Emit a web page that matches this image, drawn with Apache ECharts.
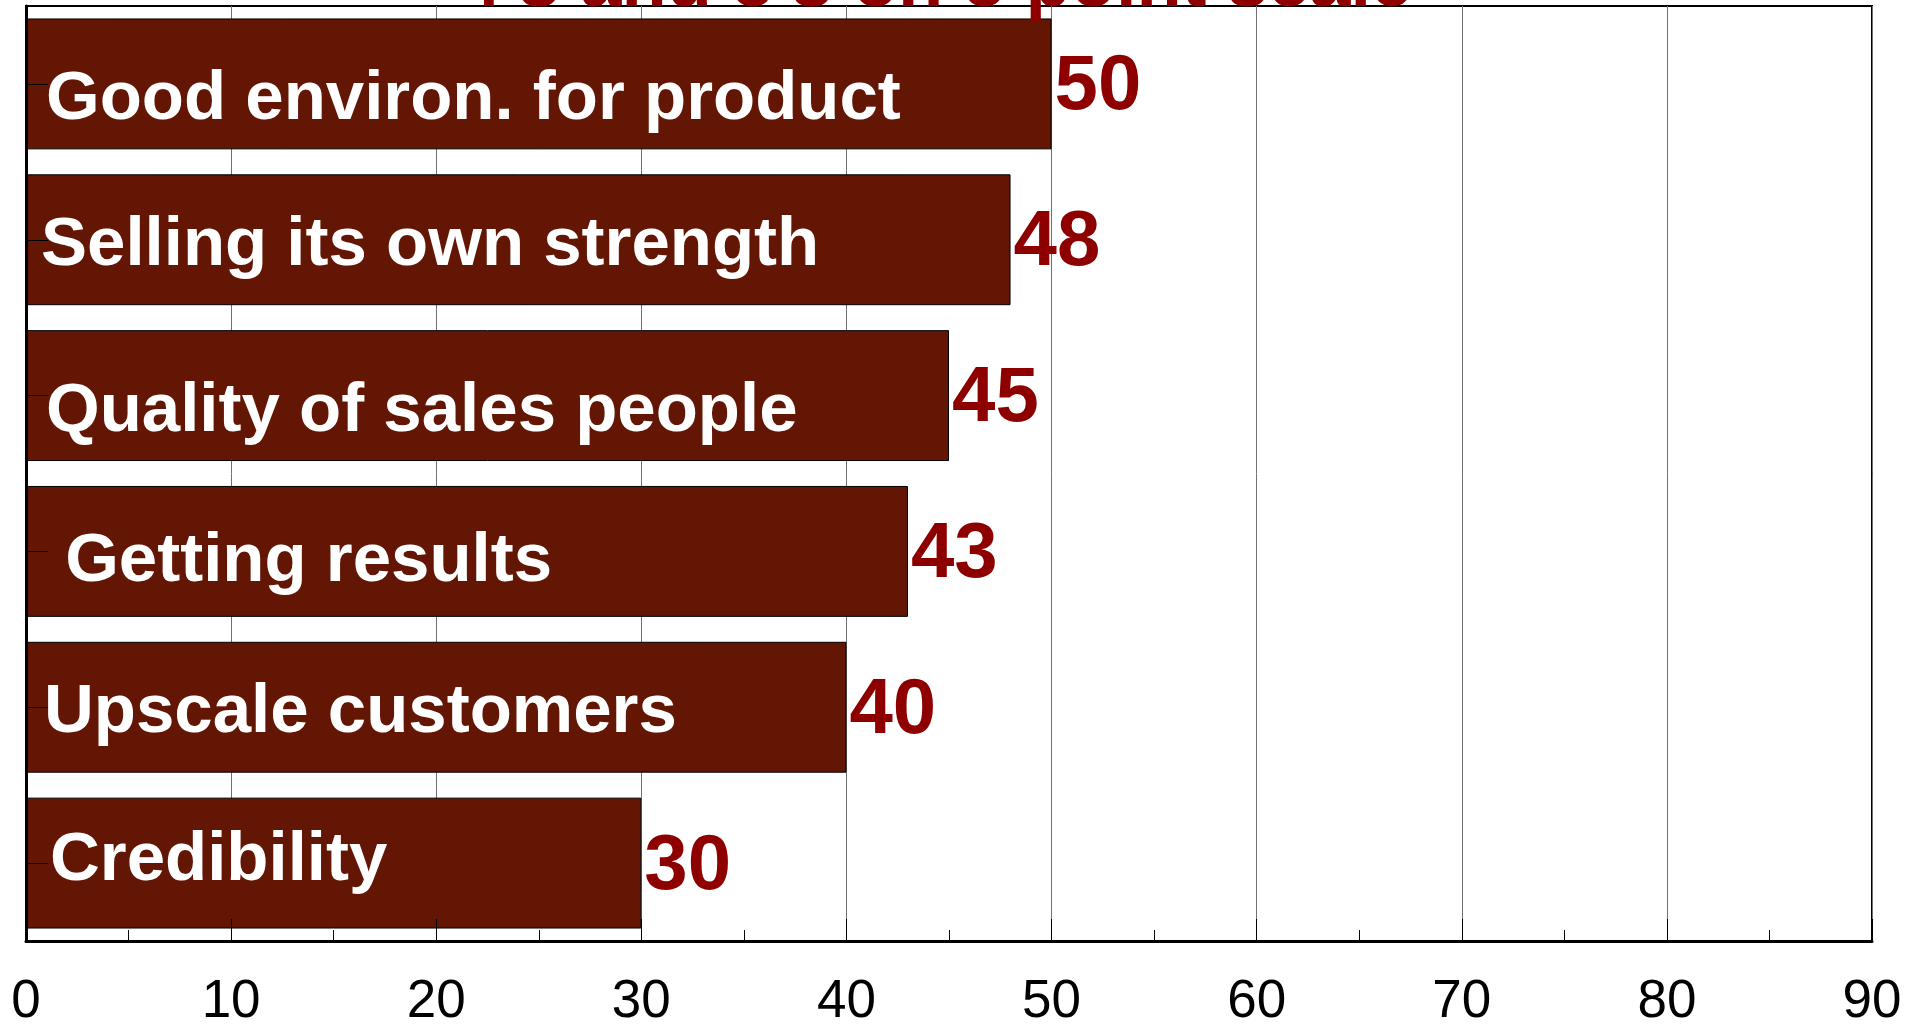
<!DOCTYPE html>
<html>
<head>
<meta charset="utf-8">
<title>Top 2 box ratings</title>
<script src="https://cdn.jsdelivr.net/npm/echarts@6/dist/echarts.min.js"></script>
<style>
  html, body { margin: 0; padding: 0; background: #ffffff; }
  #chart { width: 1925px; height: 1029px; }
</style>
</head>
<body>
<div id="chart"></div>
<script>
// Attributes, top to bottom, and the share of top-2-box ratings for each
const categories = [
  'Good environ. for product',
  'Selling its own strength',
  'Quality of sales people',
  ' Getting results',
  'Upscale customers',
  'Credibility'
];
const values = [50, 48, 45, 43, 40, 30];
const titleText = "4's and 5's on 5 point scale";
const axisMin = 0;
const axisMax = 90;
const axisStep = 10;

// Small per-bar shifts of the name labels inside the bars (px)
const nameShiftX = [0, -5, 0, 0, -2, 4];
const nameShiftY = [16, 6, 16, 11, 6, -2];

const FONT = '"Liberation Sans", Arial, sans-serif';
const BAR_COLOR = '#641604';
const VALUE_COLOR = '#8e0000';

const chart = echarts.init(document.getElementById('chart'), null, { renderer: 'canvas' });

const valueAxisBase = {
  type: 'value',
  min: axisMin,
  max: axisMax,
  interval: axisStep,
  gridIndex: 0
};

chart.setOption({
  animation: false,
  backgroundColor: '#ffffff',
  grid: {
    left: 26,
    right: 53,
    top: 6,
    bottom: 78,
    show: true,
    backgroundColor: 'transparent',
    borderColor: '#000000',
    borderWidth: 2
  },
  graphic: [{
    type: 'text',
    x: 936,
    y: -14,
    z: 20,
    style: {
      text: titleText,
      fill: VALUE_COLOR,
      font: 'bold 74px ' + FONT,
      align: 'center',
      verticalAlign: 'middle'
    }
  }],
  xAxis: [
    Object.assign({}, valueAxisBase, {
      z: 0,
      axisLine: { show: false },
      axisTick: { show: false },
      axisLabel: { show: false },
      splitLine: { show: true, lineStyle: { color: '#707070', width: 1 } }
    }),
    Object.assign({}, valueAxisBase, {
      position: 'bottom',
      z: 10,
      axisLine: { show: true, lineStyle: { color: '#000000', width: 3 } },
      axisTick: { show: true, inside: true, length: 22, lineStyle: { color: '#000000', width: 1 } },
      minorTick: { show: true, splitNumber: 2, length: 11, lineStyle: { color: '#000000', width: 1 } },
      axisLabel: { show: true, margin: 35, color: '#000000', fontSize: 53, fontFamily: FONT },
      splitLine: { show: false }
    })
  ],
  yAxis: {
    type: 'category',
    inverse: true,
    data: categories,
    z: 10,
    axisLine: { show: true, lineStyle: { color: '#000000', width: 3 } },
    axisTick: { show: true, inside: true, length: 22, alignWithLabel: true, lineStyle: { color: '#000000', width: 1 } },
    axisLabel: { show: false },
    splitLine: { show: false }
  },
  series: [
    {
      name: 'score',
      type: 'bar',
      xAxisIndex: 0,
      data: values,
      barCategoryGap: '16%',
      z: 2,
      itemStyle: { color: BAR_COLOR, borderColor: '#000000', borderWidth: 1 },
      label: {
        show: true,
        position: 'right',
        distance: 3,
        color: VALUE_COLOR,
        fontSize: 78,
        fontWeight: 'bold',
        fontFamily: FONT
      },
      labelLayout: { dy: 4 }
    },
    {
      name: 'names',
      type: 'bar',
      xAxisIndex: 0,
      data: values,
      barGap: '-100%',
      barCategoryGap: '16%',
      silent: true,
      z: 3,
      itemStyle: { color: 'rgba(0,0,0,0)' },
      label: {
        show: true,
        position: 'insideLeft',
        distance: 20,
        formatter: '{b}',
        color: '#ffffff',
        fontSize: 69,
        fontWeight: 'bold',
        fontFamily: FONT
      },
      labelLayout: function (params) {
        return { dx: nameShiftX[params.dataIndex], dy: nameShiftY[params.dataIndex] };
      }
    }
  ]
});
</script>
</body>
</html>
